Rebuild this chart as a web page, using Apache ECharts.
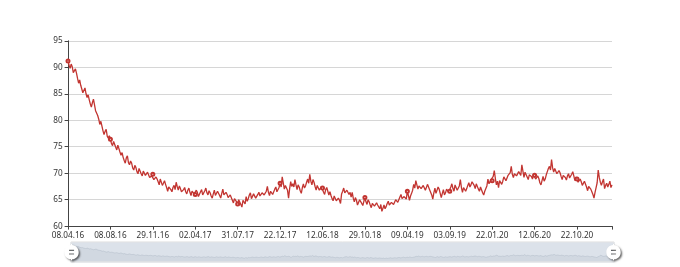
<!DOCTYPE html>
<html>
<head>
<meta charset="utf-8">
<script src="https://cdn.jsdelivr.net/npm/echarts@6/dist/echarts.min.js"></script>
<style>html,body{margin:0;padding:0;background:#fff;}#main{width:680px;height:267px;}</style>
</head>
<body>
<div id="main"></div>
<script>
const tickLabels = ['08.04.16','08.08.16','29.11.16','02.04.17','31.07.17','22.12.17','12.06.18','29.10.18','09.04.19','03.09.19','22.01.20','12.06.20','22.10.20'];
const labelStep = 40;
const values = [
91.2,90.4,89.8,90.6,90.1,89.0,89.2,89.7,88.9,87.9,87.0,87.6,86.6,85.9,85.2,85.5,86.1,85.0,84.3,84.8,
83.9,83.1,82.5,83.3,84.0,82.9,81.8,81.5,80.9,80.2,79.2,79.8,78.9,78.0,77.3,77.9,78.3,77.0,76.6,77.1,
76.4,75.6,75.2,76.0,75.8,74.9,74.4,75.3,75.1,74.0,73.4,73.9,73.0,72.4,71.9,72.9,73.3,72.0,71.6,72.3,
71.9,71.0,70.6,71.5,71.1,70.3,69.9,70.9,70.7,69.9,69.5,70.4,70.1,69.6,69.3,70.2,70.0,69.2,68.9,69.5,
69.8,68.8,68.6,69.3,68.9,68.4,67.8,68.9,68.6,67.7,68.1,68.6,67.9,67.3,66.6,67.4,67.6,66.9,66.5,67.3,
67.7,66.9,68.3,67.5,66.8,67.6,67.1,66.5,66.2,66.9,67.3,66.5,66.1,66.8,67.2,66.4,65.8,66.6,66.9,66.1,
66.0,66.8,66.4,65.6,65.7,66.5,66.9,65.9,66.2,66.7,67.2,66.3,65.9,66.7,66.3,65.7,65.3,66.1,66.8,65.8,
65.9,66.6,66.5,65.8,65.3,66.2,67.0,65.9,65.6,66.4,66.0,65.4,65.1,65.9,65.7,64.9,64.4,65.2,65.4,64.6,
64.2,65.0,64.8,64.1,63.6,64.9,64.6,64.2,65.6,64.7,65.2,65.9,66.3,65.2,65.4,66.1,66.0,65.3,65.2,66.0,
66.4,65.7,65.5,66.3,66.6,65.9,65.6,66.6,67.5,66.4,65.8,66.6,66.8,66.0,66.3,67.0,67.4,66.5,66.6,67.3,
68.1,67.4,69.3,68.2,67.0,67.7,68.0,66.8,65.3,67.1,68.4,67.5,68.0,67.4,68.8,67.8,66.9,67.8,67.4,66.7,
66.2,67.3,68.0,67.2,67.6,68.3,68.9,68.1,69.8,68.5,67.8,68.8,68.3,67.5,66.8,67.7,67.4,66.8,66.5,67.5,
67.2,66.4,66.0,66.9,67.3,66.6,65.9,66.5,65.8,65.2,64.8,65.7,65.6,64.8,64.5,65.3,64.9,64.3,66.1,66.6,
67.2,66.3,66.0,66.8,67.0,66.0,66.4,65.5,66.4,65.3,64.6,65.4,64.9,64.0,64.2,65.0,64.8,64.3,63.9,64.7,
65.4,64.6,64.1,65.0,64.6,64.0,63.5,64.3,64.6,63.8,63.5,64.4,64.0,63.7,63.3,64.1,62.8,63.4,64.0,63.3,
63.7,64.3,64.7,64.0,63.8,64.5,64.8,64.1,64.4,65.0,65.3,64.5,64.8,65.5,66.0,65.2,64.9,65.6,65.8,65.1,
66.6,65.8,64.9,65.7,66.2,66.8,67.9,67.2,68.6,67.8,67.0,67.6,67.9,67.1,66.9,67.7,67.8,66.8,67.1,67.9,
67.6,66.9,66.6,65.9,65.1,66.3,67.2,66.2,66.5,67.4,67.0,66.2,65.4,66.2,66.9,65.9,66.3,67.0,67.2,66.4,
66.6,67.4,68.0,67.1,66.6,67.8,67.5,66.8,66.9,67.6,68.8,67.3,66.4,67.3,67.2,66.6,67.1,67.7,68.2,67.4,
67.8,68.4,68.6,67.7,67.1,68.0,67.7,67.0,66.6,67.4,67.1,66.3,65.9,66.6,66.8,67.6,68.9,68.0,67.9,68.8,
68.6,69.4,70.5,69.0,67.8,68.5,67.3,68.6,68.3,67.9,68.5,69.3,69.5,68.6,68.8,69.6,69.6,70.1,71.3,69.8,
69.2,69.9,70.1,69.5,69.4,70.3,70.2,69.6,71.6,70.4,69.2,70.2,69.9,69.3,68.8,69.7,70.0,69.4,68.9,69.8,
69.6,68.9,68.7,69.5,69.0,68.2,67.8,68.6,69.4,68.5,68.9,69.7,70.3,70.9,71.3,70.6,72.6,71.0,70.2,70.9,
70.6,69.9,69.8,70.5,70.1,69.4,68.8,69.6,69.9,69.2,68.7,69.5,69.9,69.1,69.0,69.8,70.3,69.5,68.6,69.3,
68.9,68.3,68.0,68.9,68.4,67.7,67.6,68.5,68.2,67.4,66.7,67.5,67.8,67.0,66.5,66.0,65.3,66.4,67.3,68.2,
70.6,69.2,68.3,67.7,68.4,68.9,67.1,67.7,68.1,67.4,67.9,68.5,67.3,67.8
];
const categories = values.map((v, i) => (i % labelStep === 0 ? (tickLabels[i / labelStep] || '') : ''));
const lastIndex = values.length - 1;

const chart = echarts.init(document.getElementById('main'), null, {renderer: 'canvas'});
const fontFamily = 'Noto Sans';
chart.setOption({
  animation: false,
  textStyle: {fontFamily: fontFamily},
  grid: {left: 68, right: 68, top: 40.8, bottom: 40.8},
  xAxis: {
    type: 'category',
    boundaryGap: false,
    data: categories,
    axisLine: {lineStyle: {color: '#444', width: 1}},
    axisTick: {length: 3.4, interval: (idx) => idx % labelStep === 0 || idx === lastIndex},
    axisLabel: {interval: labelStep - 1, margin: 5.4, fontSize: 8.2, color: '#333', fontFamily: fontFamily}
  },
  yAxis: {
    type: 'value',
    min: 60, max: 95, interval: 5,
    axisLine: {show: true, lineStyle: {color: '#444', width: 1}},
    axisTick: {show: true, length: 3.4},
    axisLabel: {margin: 5.4, fontSize: 8.2, color: '#333', fontFamily: fontFamily},
    splitLine: {lineStyle: {color: '#d6d6d6', width: 1}}
  },
  dataZoom: [{
    type: 'slider',
    start: 0, end: 100,
    left: 68, right: 68, top: 241.4, height: 20.4,
    backgroundColor: 'rgba(47,69,84,0)',
    borderColor: '#e4e4e4',
    fillerColor: 'rgba(167,183,203,0.4)',
    brushSelect: false,
    moveHandleSize: 0,
    moveHandleStyle: {opacity: 0},
    showDetail: false,
    dataBackground: {
      lineStyle: {color: '#2f4554', width: 0.5, opacity: 0.3},
      areaStyle: {color: 'rgba(47,69,84,0.3)', opacity: 0.3}
    },
    selectedDataBackground: {
      lineStyle: {color: '#2f4554', width: 0.5, opacity: 0.3},
      areaStyle: {color: 'rgba(47,69,84,0.3)', opacity: 0.3}
    },
    handleIcon: 'path://M10.7,11.9v-1.3H9.3v1.3c-4.9,0.3-8.8,4.4-8.8,9.4c0,5,3.9,9.1,8.8,9.4v1.3h1.3v-1.3c4.9-0.3,8.8-4.4,8.8-9.4C19.5,16.3,15.6,12.2,10.7,11.9z M13.3,24.4H6.7V23h6.6V24.4z M13.3,19.6H6.7v-1.4h6.6V19.6z',
    handleSize: '80%',
    handleStyle: {color: '#fff', borderColor: '#aaa', borderWidth: 0, shadowBlur: 2, shadowColor: 'rgba(0,0,0,0.6)', shadowOffsetX: 1.4, shadowOffsetY: 1.4}
  }],
  series: [{
    type: 'line',
    data: values,
    symbol: 'emptyCircle',
    symbolSize: 3,
    lineStyle: {color: '#c23531', width: 1.3},
    itemStyle: {color: '#c23531', borderWidth: 0.6}
  }]
});
</script>
</body>
</html>
